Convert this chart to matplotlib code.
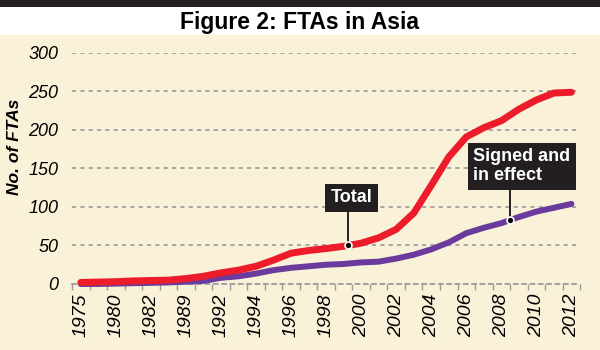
import numpy as np
import matplotlib
matplotlib.use("Agg")
import matplotlib.pyplot as plt
from matplotlib.patches import Rectangle

plt.rcParams['font.family'] = ['Liberation Sans', 'DejaVu Sans']

years = ['1975', '1977', '1980', '1981', '1982', '1985', '1989', '1991',
         '1992', '1993', '1994', '1995', '1996', '1997', '1998', '1999',
         '2000', '2001', '2002', '2003', '2004', '2005', '2006', '2007',
         '2008', '2009', '2010', '2011', '2012']
total = [2, 2.5, 3, 4, 4.5, 5, 7, 10, 14.5, 18, 23, 31, 40, 43.5, 46, 49,
         53, 60, 71, 92, 128, 165, 191, 203, 212, 227, 239, 248, 249]
signed = [0, 0, 0.5, 1, 1.5, 2, 3, 4, 8, 10, 13.5, 18, 21, 23, 25, 26,
          28, 29, 33, 38, 45, 54, 66, 73, 79, 87, 94, 99, 104]
yticks = [0, 50, 100, 150, 200, 250, 300]

bg = '#faf2d8'
red = '#ec1c2a'
purple = '#6a3b9c'
grid_col = '#9a9a9a'
dash = (0, (2.5, 2.5))

fig = plt.figure(figsize=(6, 3.5), dpi=100, facecolor=bg)

# header band: dark strip with white title area
fig.patches.append(Rectangle((0, 0.9), 1, 0.1, transform=fig.transFigure,
                             facecolor='white', edgecolor='none', zorder=0))
fig.patches.append(Rectangle((0, 0.98), 1, 0.02, transform=fig.transFigure,
                             facecolor='#231f20', edgecolor='none', zorder=1))
fig.text(0.5, 0.937, 'Figure 2: FTAs in Asia', ha='center', va='center',
         fontsize=16.5, fontweight='bold')

ax = fig.add_axes([0.12, 0.1886, 0.847, 0.66])
ax.set_facecolor(bg)

x = np.arange(len(years))
ax.plot(x, signed, color=purple, lw=4.3, solid_capstyle='round',
        solid_joinstyle='round', zorder=3, clip_on=False)
ax.plot(x, total, color=red, lw=5, solid_capstyle='round',
        solid_joinstyle='round', zorder=4, clip_on=False)

ax.set_xlim(-0.5, len(years) - 0.5)
ax.set_ylim(0, 300)

ax.set_yticks(yticks)
ax.set_yticklabels([str(v) for v in yticks], fontsize=13, style='italic')
ax.yaxis.grid(True, color=grid_col, lw=1.2, linestyle=dash)
ax.tick_params(axis='y', length=0, pad=10)

ax.set_xticks(x[::2])
ax.set_xticklabels(years[::2], rotation=90, fontsize=14, style='italic')
ax.set_xticks(np.arange(-0.5, len(years), 1), minor=True)
ax.tick_params(axis='x', which='major', length=0, pad=7)
ax.tick_params(axis='x', which='minor', length=4, width=1, color=grid_col)

for side in ['top', 'right', 'left']:
    ax.spines[side].set_visible(False)
ax.spines['bottom'].set_color(grid_col)
ax.spines['bottom'].set_linewidth(1.2)
ax.spines['bottom'].set_linestyle(dash)

fig.text(15 / 600, 1 - 147 / 350, 'No. of FTAs', rotation=90, ha='center',
         va='center', fontsize=12.5, fontweight='bold', style='italic')

# callout labels with leader lines
box = dict(boxstyle='square,pad=0.3', facecolor='#231f20', edgecolor='none')

tx = 15.25
ty = np.interp(tx, x, total)
ax.plot([tx, tx], [ty, 97], color='black', lw=1.2, zorder=5)
ax.plot(tx, ty, 'o', ms=5, mfc='black', mec='white', mew=1.2, zorder=6)
ax.text(tx + 0.2, 112, 'Total', ha='center', va='center', color='white',
        fontsize=13, fontweight='bold', bbox=box, zorder=7)

sx = 24.5
sy = np.interp(sx, x, signed)
ax.plot([sx, sx], [sy, 122], color='black', lw=1.2, zorder=5)
ax.plot(sx, sy, 'o', ms=5, mfc='black', mec='white', mew=1.2, zorder=6)
ax.text(22.4, 153, 'Signed and\nin effect', ha='left', va='center',
        color='white', fontsize=13, fontweight='bold', linespacing=1.15,
        bbox=box, zorder=7)

fig.savefig('out.png', dpi=100, facecolor=bg)
